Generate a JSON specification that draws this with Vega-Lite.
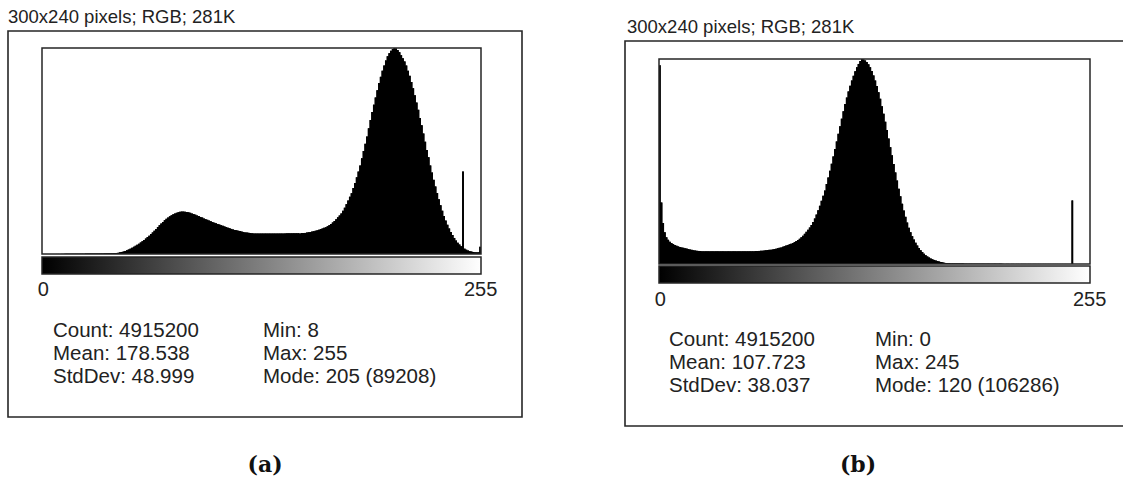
{
  "$schema": "https://vega.github.io/schema/vega-lite/v6.json",
  "width": 1123,
  "height": 477,
  "autosize": {"type": "none"},
  "padding": 0,
  "background": "white",
  "config": {"view": {"stroke": null}, "text": {"font": "Liberation Sans"}},
  "datasets": {
    "histA": [
      {"bin":0,"count":0},{"bin":1,"count":0},{"bin":2,"count":0},{"bin":3,"count":0},{"bin":4,"count":0},{"bin":5,"count":0},{"bin":6,"count":0},{"bin":7,"count":0},
      {"bin":8,"count":27},{"bin":9,"count":31},{"bin":10,"count":44},{"bin":11,"count":49},{"bin":12,"count":52},{"bin":13,"count":63},{"bin":14,"count":70},{"bin":15,"count":84},
      {"bin":16,"count":87},{"bin":17,"count":101},{"bin":18,"count":104},{"bin":19,"count":118},{"bin":20,"count":121},{"bin":21,"count":137},{"bin":22,"count":140},{"bin":23,"count":149},
      {"bin":24,"count":158},{"bin":25,"count":166},{"bin":26,"count":181},{"bin":27,"count":186},{"bin":28,"count":199},{"bin":29,"count":203},{"bin":30,"count":217},{"bin":31,"count":225},
      {"bin":32,"count":229},{"bin":33,"count":244},{"bin":34,"count":248},{"bin":35,"count":262},{"bin":36,"count":271},{"bin":37,"count":283},{"bin":38,"count":299},{"bin":39,"count":327},
      {"bin":40,"count":336},{"bin":41,"count":361},{"bin":42,"count":398},{"bin":43,"count":452},{"bin":44,"count":540},{"bin":45,"count":709},{"bin":46,"count":897},{"bin":47,"count":1076},
      {"bin":48,"count":1331},{"bin":49,"count":1612},{"bin":50,"count":1958},{"bin":51,"count":2327},{"bin":52,"count":2669},{"bin":53,"count":3131},{"bin":54,"count":3560},{"bin":55,"count":4022},
      {"bin":56,"count":4453},{"bin":57,"count":5004},{"bin":58,"count":5524},{"bin":59,"count":6075},{"bin":60,"count":6683},{"bin":61,"count":7322},{"bin":62,"count":7931},{"bin":63,"count":8660},
      {"bin":64,"count":9358},{"bin":65,"count":10091},{"bin":66,"count":10875},{"bin":67,"count":11694},{"bin":68,"count":12480},{"bin":69,"count":13211},{"bin":70,"count":13907},{"bin":71,"count":14638},
      {"bin":72,"count":15246},{"bin":73,"count":15799},{"bin":74,"count":16318},{"bin":75,"count":16779},{"bin":76,"count":17210},{"bin":77,"count":17582},{"bin":78,"count":17836},{"bin":79,"count":18115},
      {"bin":80,"count":18281},{"bin":81,"count":18384},{"bin":82,"count":18370},{"bin":83,"count":18294},{"bin":84,"count":18190},{"bin":85,"count":18027},{"bin":86,"count":17835},{"bin":87,"count":17580},
      {"bin":88,"count":17299},{"bin":89,"count":17046},{"bin":90,"count":16675},{"bin":91,"count":16420},{"bin":92,"count":16051},{"bin":93,"count":15797},{"bin":94,"count":15426},{"bin":95,"count":15083},
      {"bin":96,"count":14801},{"bin":97,"count":14459},{"bin":98,"count":14177},{"bin":99,"count":13834},{"bin":100,"count":13552},{"bin":101,"count":13299},{"bin":102,"count":13018},{"bin":103,"count":12763},
      {"bin":104,"count":12482},{"bin":105,"count":12228},{"bin":106,"count":11947},{"bin":107,"count":11692},{"bin":108,"count":11411},{"bin":109,"count":11158},{"bin":110,"count":10876},{"bin":111,"count":10622},
      {"bin":112,"count":10430},{"bin":113,"count":10265},{"bin":114,"count":10074},{"bin":115,"count":9908},{"bin":116,"count":9717},{"bin":117,"count":9551},{"bin":118,"count":9360},{"bin":119,"count":9284},
      {"bin":120,"count":9181},{"bin":121,"count":9105},{"bin":122,"count":9003},{"bin":123,"count":8927},{"bin":124,"count":8912},{"bin":125,"count":8896},{"bin":126,"count":8905},{"bin":127,"count":8889},
      {"bin":128,"count":8901},{"bin":129,"count":8893},{"bin":130,"count":8908},{"bin":131,"count":8887},{"bin":132,"count":8899},{"bin":133,"count":8904},{"bin":134,"count":8891},{"bin":135,"count":8897},
      {"bin":136,"count":8910},{"bin":137,"count":8894},{"bin":138,"count":8902},{"bin":139,"count":8908},{"bin":140,"count":8916},{"bin":141,"count":8925},{"bin":142,"count":8934},{"bin":143,"count":8946},
      {"bin":144,"count":8958},{"bin":145,"count":8972},{"bin":146,"count":8989},{"bin":147,"count":9006},{"bin":148,"count":9012},{"bin":149,"count":9031},{"bin":150,"count":8850},{"bin":151,"count":9058},
      {"bin":152,"count":9090},{"bin":153,"count":9144},{"bin":154,"count":9270},{"bin":155,"count":9418},{"bin":156,"count":9540},{"bin":157,"count":9731},{"bin":158,"count":9895},{"bin":159,"count":10088},
      {"bin":160,"count":10252},{"bin":161,"count":10533},{"bin":162,"count":10788},{"bin":163,"count":11069},{"bin":164,"count":11322},{"bin":165,"count":11604},{"bin":166,"count":12037},{"bin":167,"count":12495},
      {"bin":168,"count":13017},{"bin":169,"count":13656},{"bin":170,"count":14266},{"bin":171,"count":15083},{"bin":172,"count":15871},{"bin":173,"count":16690},{"bin":174,"count":17567},{"bin":175,"count":18741},
      {"bin":176,"count":20064},{"bin":177,"count":21596},{"bin":178,"count":23187},{"bin":179,"count":24808},{"bin":180,"count":26309},{"bin":181,"count":28554},{"bin":182,"count":30770},{"bin":183,"count":33193},
      {"bin":184,"count":35676},{"bin":185,"count":38366},{"bin":186,"count":41475},{"bin":187,"count":44612},{"bin":188,"count":47719},{"bin":189,"count":50857},{"bin":190,"count":54409},{"bin":191,"count":57992},
      {"bin":192,"count":61546},{"bin":193,"count":64683},{"bin":194,"count":67791},{"bin":195,"count":70928},{"bin":196,"count":74035},{"bin":197,"count":76726},{"bin":198,"count":79388},{"bin":199,"count":81632},
      {"bin":200,"count":83849},{"bin":201,"count":85647},{"bin":202,"count":86971},{"bin":203,"count":88055},{"bin":204,"count":88755},{"bin":205,"count":89208},{"bin":206,"count":89021},{"bin":207,"count":88323},
      {"bin":208,"count":87417},{"bin":209,"count":86093},{"bin":210,"count":84741},{"bin":211,"count":83416},{"bin":212,"count":81618},{"bin":213,"count":79402},{"bin":214,"count":77158},{"bin":215,"count":74496},
      {"bin":216,"count":71805},{"bin":217,"count":68697},{"bin":218,"count":65561},{"bin":219,"count":62453},{"bin":220,"count":58870},{"bin":221,"count":55762},{"bin":222,"count":52180},{"bin":223,"count":48625},
      {"bin":224,"count":45043},{"bin":225,"count":41935},{"bin":226,"count":38352},{"bin":227,"count":35244},{"bin":228,"count":32108},{"bin":229,"count":29267},{"bin":230,"count":26399},{"bin":231,"count":23736},
      {"bin":232,"count":21135},{"bin":233,"count":18741},{"bin":234,"count":16496},{"bin":235,"count":14459},{"bin":236,"count":12661},{"bin":237,"count":11069},{"bin":238,"count":9538},{"bin":239,"count":8214},
      {"bin":240,"count":6951},{"bin":241,"count":5895},{"bin":242,"count":4899},{"bin":243,"count":4111},{"bin":244,"count":3383},{"bin":245,"count":35702},{"bin":246,"count":2326},{"bin":247,"count":1866},
      {"bin":248,"count":1524},{"bin":249,"count":1242},{"bin":250,"count":1077},{"bin":251,"count":885},{"bin":252,"count":810},{"bin":253,"count":707},{"bin":254,"count":721},{"bin":255,"count":3128}
    ],
    "histB": [
      {"bin":0,"count":103104},{"bin":1,"count":31879},{"bin":2,"count":21263},{"bin":3,"count":16468},{"bin":4,"count":13822},{"bin":5,"count":12537},{"bin":6,"count":11591},{"bin":7,"count":10836},
      {"bin":8,"count":10315},{"bin":9,"count":9879},{"bin":10,"count":9466},{"bin":11,"count":9134},{"bin":12,"count":8828},{"bin":13,"count":8603},{"bin":14,"count":8402},{"bin":15,"count":8178},
      {"bin":16,"count":7977},{"bin":17,"count":7752},{"bin":18,"count":7551},{"bin":19,"count":7328},{"bin":20,"count":7127},{"bin":21,"count":7009},{"bin":22,"count":6914},{"bin":23,"count":6797},
      {"bin":24,"count":6701},{"bin":25,"count":6588},{"bin":26,"count":6572},{"bin":27,"count":6594},{"bin":28,"count":6566},{"bin":29,"count":6581},{"bin":30,"count":6559},{"bin":31,"count":6577},
      {"bin":32,"count":6563},{"bin":33,"count":6585},{"bin":34,"count":6570},{"bin":35,"count":6556},{"bin":36,"count":6579},{"bin":37,"count":6561},{"bin":38,"count":6574},{"bin":39,"count":6552},
      {"bin":40,"count":6568},{"bin":41,"count":6583},{"bin":42,"count":6557},{"bin":43,"count":6571},{"bin":44,"count":6565},{"bin":45,"count":6580},{"bin":46,"count":6560},{"bin":47,"count":6576},
      {"bin":48,"count":6569},{"bin":49,"count":6590},{"bin":50,"count":6573},{"bin":51,"count":6587},{"bin":52,"count":6598},{"bin":53,"count":6610},{"bin":54,"count":6604},{"bin":55,"count":6621},
      {"bin":56,"count":6643},{"bin":57,"count":6689},{"bin":58,"count":6702},{"bin":59,"count":6797},{"bin":60,"count":6810},{"bin":61,"count":6903},{"bin":62,"count":7021},{"bin":63,"count":7114},
      {"bin":64,"count":7233},{"bin":65,"count":7327},{"bin":66,"count":7446},{"bin":67,"count":7540},{"bin":68,"count":7765},{"bin":69,"count":7964},{"bin":70,"count":8190},{"bin":71,"count":8391},
      {"bin":72,"count":8616},{"bin":73,"count":8921},{"bin":74,"count":9253},{"bin":75,"count":9559},{"bin":76,"count":9891},{"bin":77,"count":10197},{"bin":78,"count":10529},{"bin":79,"count":10940},
      {"bin":80,"count":11379},{"bin":81,"count":11897},{"bin":82,"count":12442},{"bin":83,"count":13066},{"bin":84,"count":13824},{"bin":85,"count":14660},{"bin":86,"count":15631},{"bin":87,"count":16680},
      {"bin":88,"count":17757},{"bin":89,"count":18912},{"bin":90,"count":20201},{"bin":91,"count":21782},{"bin":92,"count":23602},{"bin":93,"count":25608},{"bin":94,"count":27854},{"bin":95,"count":30178},
      {"bin":96,"count":32743},{"bin":97,"count":35386},{"bin":98,"count":38057},{"bin":99,"count":41445},{"bin":100,"count":44860},{"bin":101,"count":48353},{"bin":102,"count":51981},{"bin":103,"count":55793},
      {"bin":104,"count":59633},{"bin":105,"count":63552},{"bin":106,"count":67499},{"bin":107,"count":71417},{"bin":108,"count":75364},{"bin":109,"count":79176},{"bin":110,"count":82910},{"bin":111,"count":86297},
      {"bin":112,"count":89500},{"bin":113,"count":92462},{"bin":114,"count":95133},{"bin":115,"count":97564},{"bin":116,"count":99916},{"bin":117,"count":102028},{"bin":118,"count":103742},{"bin":119,"count":105216},
      {"bin":120,"count":106286},{"bin":121,"count":106080},{"bin":122,"count":105535},{"bin":123,"count":104699},{"bin":124,"count":103516},{"bin":125,"count":102042},{"bin":126,"count":100114},{"bin":127,"count":97790},
      {"bin":128,"count":95119},{"bin":129,"count":92263},{"bin":130,"count":89061},{"bin":131,"count":85674},{"bin":132,"count":81833},{"bin":133,"count":77915},{"bin":134,"count":73755},{"bin":135,"count":69518},
      {"bin":136,"count":65040},{"bin":137,"count":60590},{"bin":138,"count":56325},{"bin":139,"count":51875},{"bin":140,"count":47503},{"bin":141,"count":43265},{"bin":142,"count":39000},{"bin":143,"count":35081},
      {"bin":144,"count":31241},{"bin":145,"count":27748},{"bin":146,"count":24439},{"bin":147,"count":21477},{"bin":148,"count":18806},{"bin":149,"count":16481},{"bin":150,"count":14448},{"bin":151,"count":12655},
      {"bin":152,"count":11047},{"bin":153,"count":9573},{"bin":154,"count":8284},{"bin":155,"count":7127},{"bin":156,"count":6158},{"bin":157,"count":5320},{"bin":158,"count":4564},{"bin":159,"count":3939},
      {"bin":160,"count":3395},{"bin":161,"count":2876},{"bin":162,"count":2439},{"bin":163,"count":2131},{"bin":164,"count":1801},{"bin":165,"count":1494},{"bin":166,"count":1269},{"bin":167,"count":1068},
      {"bin":168,"count":846},{"bin":169,"count":641},{"bin":170,"count":527},{"bin":171,"count":429},{"bin":172,"count":368},{"bin":173,"count":322},{"bin":174,"count":297},{"bin":175,"count":276},
      {"bin":176,"count":259},{"bin":177,"count":241},{"bin":178,"count":228},{"bin":179,"count":213},{"bin":180,"count":201},{"bin":181,"count":190},{"bin":182,"count":178},{"bin":183,"count":169},
      {"bin":184,"count":160},{"bin":185,"count":151},{"bin":186,"count":144},{"bin":187,"count":137},{"bin":188,"count":129},{"bin":189,"count":124},{"bin":190,"count":117},{"bin":191,"count":112},
      {"bin":192,"count":106},{"bin":193,"count":101},{"bin":194,"count":97},{"bin":195,"count":92},{"bin":196,"count":88},{"bin":197,"count":85},{"bin":198,"count":81},{"bin":199,"count":77},
      {"bin":200,"count":74},{"bin":201,"count":71},{"bin":202,"count":68},{"bin":203,"count":66},{"bin":204,"count":63},{"bin":205,"count":60},{"bin":206,"count":58},{"bin":207,"count":56},
      {"bin":208,"count":54},{"bin":209,"count":51},{"bin":210,"count":49},{"bin":211,"count":48},{"bin":212,"count":46},{"bin":213,"count":44},{"bin":214,"count":42},{"bin":215,"count":41},
      {"bin":216,"count":39},{"bin":217,"count":38},{"bin":218,"count":36},{"bin":219,"count":35},{"bin":220,"count":34},{"bin":221,"count":33},{"bin":222,"count":31},{"bin":223,"count":30},
      {"bin":224,"count":29},{"bin":225,"count":28},{"bin":226,"count":27},{"bin":227,"count":26},{"bin":228,"count":25},{"bin":229,"count":25},{"bin":230,"count":24},{"bin":231,"count":23},
      {"bin":232,"count":22},{"bin":233,"count":22},{"bin":234,"count":21},{"bin":235,"count":20},{"bin":236,"count":20},{"bin":237,"count":19},{"bin":238,"count":18},{"bin":239,"count":18},
      {"bin":240,"count":17},{"bin":241,"count":17},{"bin":242,"count":16},{"bin":243,"count":16},{"bin":244,"count":15},{"bin":245,"count":32957},{"bin":246,"count":0},{"bin":247,"count":0},
      {"bin":248,"count":0},{"bin":249,"count":0},{"bin":250,"count":0},{"bin":251,"count":0},{"bin":252,"count":0},{"bin":253,"count":0},{"bin":254,"count":0},{"bin":255,"count":0}
    ],
    "titles": [
      {"panel": "a", "text": "300x240 pixels; RGB; 281K"},
      {"panel": "b", "text": "300x240 pixels; RGB; 281K"}
    ],
    "captions": [
      {"panel": "a", "text": "(a)"},
      {"panel": "b", "text": "(b)"}
    ],
    "statsA": [
      {"side": "left", "line": 1, "text": "Count: 4915200"},
      {"side": "left", "line": 2, "text": "Mean: 178.538"},
      {"side": "left", "line": 3, "text": "StdDev: 48.999"},
      {"side": "right", "line": 1, "text": "Min: 8"},
      {"side": "right", "line": 2, "text": "Max: 255"},
      {"side": "right", "line": 3, "text": "Mode: 205 (89208)"}
    ],
    "statsB": [
      {"side": "left", "line": 1, "text": "Count: 4915200"},
      {"side": "left", "line": 2, "text": "Mean: 107.723"},
      {"side": "left", "line": 3, "text": "StdDev: 38.037"},
      {"side": "right", "line": 1, "text": "Min: 0"},
      {"side": "right", "line": 2, "text": "Max: 245"},
      {"side": "right", "line": 3, "text": "Mode: 120 (106286)"}
    ],
    "box": [{}]
  },
  "resolve": {
    "scale": {"x": "independent", "y": "independent"},
    "axis": {"x": "independent", "y": "independent"}
  },
  "layer": [
    {
      "data": {"name": "box"},
      "mark": {"type": "rect", "filled": false, "color": "#262626", "strokeWidth": 1.6},
      "encoding": {
        "x": {"datum": 0, "type": "quantitative", "scale": {"domain": [0, 1], "range": [8, 522]}, "axis": null},
        "x2": {"datum": 1},
        "y": {"datum": 0, "type": "quantitative", "scale": {"domain": [0, 1], "range": [417, 31]}, "axis": null},
        "y2": {"datum": 1}
      }
    },
    {
      "data": {"name": "box"},
      "mark": {"type": "rect", "filled": false, "color": "#262626", "strokeWidth": 1.6},
      "encoding": {
        "x": {"datum": 0, "type": "quantitative", "scale": {"domain": [0, 1], "range": [625, 1170]}, "axis": null},
        "x2": {"datum": 1},
        "y": {"datum": 0, "type": "quantitative", "scale": {"domain": [0, 1], "range": [426, 41]}, "axis": null},
        "y2": {"datum": 1}
      }
    },
    {
      "data": {"name": "histA"},
      "encoding": {
        "x": {"field": "bin", "type": "ordinal", "scale": {"type": "band", "range": [42, 481], "paddingInner": 0, "paddingOuter": 0}, "axis": null},
        "y": {"field": "count", "type": "quantitative", "stack": null, "scale": {"domain": [0, 89208], "range": [254, 48], "nice": false}, "axis": null}
      },
      "layer": [
        {"mark": {"type": "bar", "fill": "#000000", "strokeWidth": 0}},
        {"mark": {"type": "area", "interpolate": "step", "fill": "#000000", "strokeWidth": 0}}
      ]
    },
    {
      "data": {"name": "histB"},
      "encoding": {
        "x": {"field": "bin", "type": "ordinal", "scale": {"type": "band", "range": [659, 1090], "paddingInner": 0, "paddingOuter": 0}, "axis": null},
        "y": {"field": "count", "type": "quantitative", "stack": null, "scale": {"domain": [0, 106286], "range": [264, 59], "nice": false}, "axis": null}
      },
      "layer": [
        {"mark": {"type": "bar", "fill": "#000000", "strokeWidth": 0}},
        {"mark": {"type": "area", "interpolate": "step", "fill": "#000000", "strokeWidth": 0}}
      ]
    },
    {
      "data": {"name": "box"},
      "mark": {"type": "rect", "filled": false, "color": "#262626", "strokeWidth": 1.5},
      "encoding": {
        "x": {"datum": 0, "type": "quantitative", "scale": {"domain": [0, 1], "range": [42, 481]}, "axis": null},
        "x2": {"datum": 1},
        "y": {"datum": 0, "type": "quantitative", "scale": {"domain": [0, 1], "range": [254, 48]}, "axis": null},
        "y2": {"datum": 1}
      }
    },
    {
      "data": {"name": "box"},
      "mark": {"type": "rect", "filled": false, "color": "#262626", "strokeWidth": 1.5},
      "encoding": {
        "x": {"datum": 0, "type": "quantitative", "scale": {"domain": [0, 1], "range": [659, 1090]}, "axis": null},
        "x2": {"datum": 1},
        "y": {"datum": 0, "type": "quantitative", "scale": {"domain": [0, 1], "range": [264, 59]}, "axis": null},
        "y2": {"datum": 1}
      }
    },
    {
      "data": {"name": "box"},
      "mark": {
        "type": "rect", "stroke": "#262626", "strokeWidth": 1.5,
        "fill": {"gradient": "linear", "x1": 0, "y1": 0, "x2": 1, "y2": 0,
                 "stops": [{"offset": 0, "color": "#000000"}, {"offset": 1, "color": "#ffffff"}]}
      },
      "encoding": {
        "x": {
          "datum": -0.5, "type": "quantitative",
          "scale": {"domain": [-0.5, 255.5], "range": [42, 481], "nice": false, "zero": false},
          "axis": {"orient": "bottom", "values": [0, 255], "offset": -203, "domain": false, "ticks": false, "grid": false,
                   "title": null, "labelPadding": 5, "labelFontSize": 20, "labelFont": "Liberation Sans",
                   "labelColor": "#222222", "labelFlush": false, "labelOverlap": false}
        },
        "x2": {"datum": 255.5},
        "y": {"datum": 0, "type": "quantitative", "scale": {"domain": [0, 1], "range": [274, 257]}, "axis": null},
        "y2": {"datum": 1}
      }
    },
    {
      "data": {"name": "box"},
      "mark": {
        "type": "rect", "stroke": "#262626", "strokeWidth": 1.5,
        "fill": {"gradient": "linear", "x1": 0, "y1": 0, "x2": 1, "y2": 0,
                 "stops": [{"offset": 0, "color": "#000000"}, {"offset": 1, "color": "#ffffff"}]}
      },
      "encoding": {
        "x": {
          "datum": -0.5, "type": "quantitative",
          "scale": {"domain": [-0.5, 255.5], "range": [659, 1090], "nice": false, "zero": false},
          "axis": {"orient": "bottom", "values": [0, 255], "offset": -194, "domain": false, "ticks": false, "grid": false,
                   "title": null, "labelPadding": 6, "labelFontSize": 20, "labelFont": "Liberation Sans",
                   "labelColor": "#222222", "labelFlush": false, "labelOverlap": false}
        },
        "x2": {"datum": 255.5},
        "y": {"datum": 0, "type": "quantitative", "scale": {"domain": [0, 1], "range": [283, 266]}, "axis": null},
        "y2": {"datum": 1}
      }
    },
    {
      "data": {"name": "titles"},
      "mark": {"type": "text", "align": "left", "baseline": "alphabetic", "fontSize": 18.5, "color": "#222222"},
      "encoding": {
        "x": {"field": "panel", "type": "nominal", "scale": {"type": "point", "domain": ["a", "b"], "range": [8, 627], "padding": 0}, "axis": null},
        "y": {"field": "panel", "type": "nominal", "scale": {"type": "point", "domain": ["a", "b"], "range": [23, 32.5], "padding": 0}, "axis": null},
        "text": {"field": "text"}
      }
    },
    {
      "data": {"name": "statsA"},
      "mark": {"type": "text", "align": "left", "baseline": "alphabetic", "fontSize": 20.5, "color": "#222222"},
      "encoding": {
        "x": {"field": "side", "type": "nominal", "scale": {"type": "point", "domain": ["left", "right"], "range": [53, 263], "padding": 0}, "axis": null},
        "y": {"field": "line", "type": "ordinal", "scale": {"type": "point", "domain": [1, 2, 3], "range": [337, 383], "padding": 0}, "axis": null},
        "text": {"field": "text"}
      }
    },
    {
      "data": {"name": "statsB"},
      "mark": {"type": "text", "align": "left", "baseline": "alphabetic", "fontSize": 20.5, "color": "#222222"},
      "encoding": {
        "x": {"field": "side", "type": "nominal", "scale": {"type": "point", "domain": ["left", "right"], "range": [669, 875], "padding": 0}, "axis": null},
        "y": {"field": "line", "type": "ordinal", "scale": {"type": "point", "domain": [1, 2, 3], "range": [346, 391.7], "padding": 0}, "axis": null},
        "text": {"field": "text"}
      }
    },
    {
      "data": {"name": "captions"},
      "mark": {"type": "text", "align": "center", "baseline": "alphabetic", "font": "DejaVu Serif", "fontWeight": "bold", "fontSize": 22, "color": "#111111"},
      "encoding": {
        "x": {"field": "panel", "type": "nominal", "scale": {"type": "point", "domain": ["a", "b"], "range": [265, 858], "padding": 0}, "axis": null},
        "y": {"field": "panel", "type": "nominal", "scale": {"type": "point", "domain": ["a", "b"], "range": [472, 472], "padding": 0}, "axis": null},
        "text": {"field": "text"}
      }
    }
  ]
}
